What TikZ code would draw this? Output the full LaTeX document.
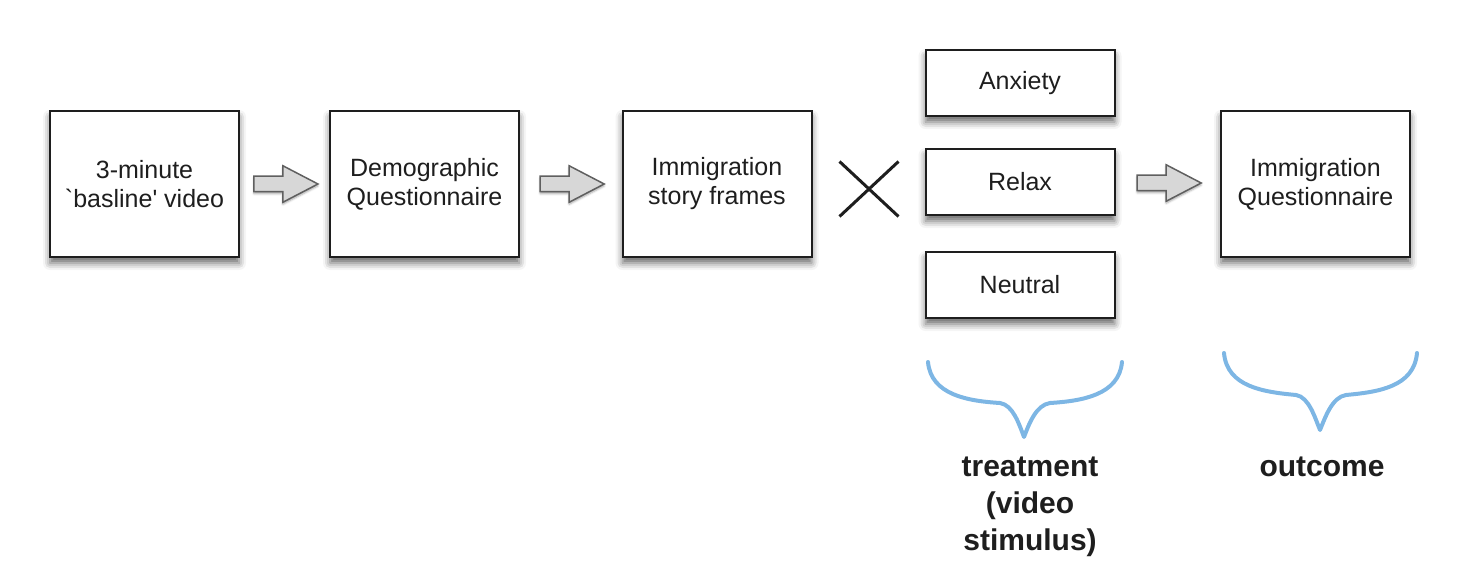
\documentclass[tikz,border=0pt]{standalone}
\usepackage{fontspec}
\setmainfont{Liberation Sans}[Ligatures=TeXOff]
\usepackage{tikz}
\usetikzlibrary{shapes.arrows,shapes.misc,shadows.blur,calc}
\definecolor{boxline}{RGB}{30, 30, 30}
\definecolor{arrowfill}{RGB}{215, 215, 215}
\definecolor{arrowline}{RGB}{95, 95, 95}
\definecolor{braceblue}{RGB}{125, 182, 228}
\definecolor{labeltext}{RGB}{30, 30, 30}

\tikzset{
    stagebox/.style={draw=boxline, line width=2pt, fill=white, minimum width=189pt, minimum height=146pt,
        align=center, text=labeltext, font=\fontsize{25}{29}\selectfont,
        blur shadow={shadow xshift=0pt, shadow yshift=-6pt, shadow blur radius=7pt, shadow opacity=60}},
    condbox/.style={stagebox, minimum height=66pt},
    flowarrow/.style={single arrow, draw=arrowline, fill=arrowfill, line width=1.5pt, inner xsep=0pt, inner ysep=7pt,
        minimum height=64pt, single arrow head extend=10.5pt, single arrow tip angle=55, xshift=-6pt,
        blur shadow={shadow xshift=0pt, shadow yshift=-2pt, shadow blur radius=2pt, shadow opacity=35}},
    bracepath/.style={draw=braceblue, line width=4pt, line cap=round, line join=round},
    grouplabel/.style={align=center, text=labeltext, font=\fontsize{30}{37}\selectfont\bfseries}
}

\begin{document}
\begin{tikzpicture}[x=1pt, y=-1pt]
    \useasboundingbox (0,0) rectangle (1468,588);

    % stages of the study
    \node[stagebox] (baseline) at (144.5,184) {3-minute\\`basline' video};
    \node[stagebox] (demog) at (424.5,184) {Demographic\\Questionnaire};
    \node[stagebox] (frames) at (717,184) {Immigration\\story frames};
    \node[condbox] (anxiety) at (1020,83) {Anxiety};
    \node[condbox] (relax) at (1020,182) {Relax};
    \node[condbox] (neutral) at (1020,285) {Neutral};
    \node[stagebox] (immq) at (1315.5,184) {Immigration\\Questionnaire};

    % block arrows and crossing
    \node[flowarrow] (arrowA) at ($(baseline.east)!0.5!(demog.west)$) {};
    \node[flowarrow] (arrowB) at ($(demog.east)!0.5!(frames.west)$) {};
    \node[flowarrow] (arrowC) at ($(relax.east)!0.5!(immq.west)$) {};
    \node[cross out, draw=boxline, line width=3pt, minimum width=56pt, minimum height=52pt, inner sep=0pt] (times) at (869,189) {};

    % braces
    \draw[bracepath] (928,362) .. controls (931,395) and (968,401) .. (1000,403)
        .. controls (1013,405) and (1019,424) .. (1024,437)
        .. controls (1029,424) and (1036,405) .. (1050,403)
        .. controls (1082,401) and (1119,395) .. (1122,362);
    \draw[bracepath] (1224,353) .. controls (1227,387) and (1264,392) .. (1296,395)
        .. controls (1309,397) and (1315,418) .. (1320,430)
        .. controls (1325,418) and (1332,397) .. (1346,395)
        .. controls (1378,392) and (1414,387) .. (1417,353);

    \node[grouplabel] (treatment) at (1030,507) {treatment\\(video\\stimulus)};
    \node[grouplabel] (outcome) at (1322,467) {outcome};
\end{tikzpicture}
\end{document}
